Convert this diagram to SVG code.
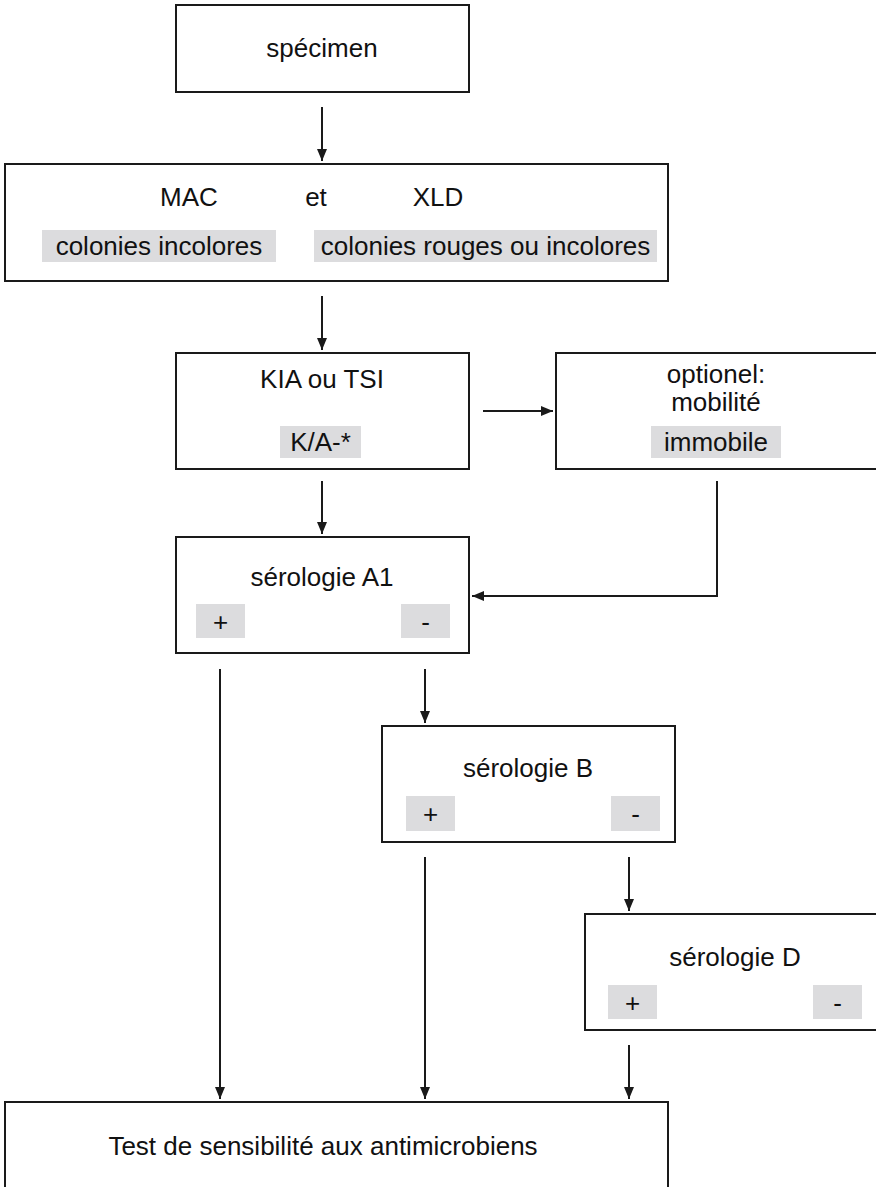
<svg xmlns="http://www.w3.org/2000/svg" width="876" height="1187" viewBox="0 0 876 1187">
<style>
.box{fill:#ffffff;stroke:#1a1a1a;stroke-width:2}
.tag{fill:#dcdcde;stroke:none}
.t{font-family:"Liberation Sans",Arial,sans-serif;font-size:26px;fill:#111;text-anchor:middle}
.c{fill:none;stroke:#1a1a1a;stroke-width:2}
</style>
<defs>
<marker id="ah" markerUnits="userSpaceOnUse" markerWidth="12" markerHeight="12" viewBox="0 0 12 12" refX="12" refY="6" orient="auto">
<path d="M0,1 L12,6 L0,11 Z" fill="#1a1a1a"/>
</marker>
</defs>
<rect width="876" height="1187" fill="#ffffff"/>
<g id="connectors">
<line class="c" x1="322" y1="107" x2="322" y2="161" marker-end="url(#ah)"/>
<line class="c" x1="322" y1="296" x2="322" y2="350" marker-end="url(#ah)"/>
<line class="c" x1="483" y1="411" x2="553" y2="411" marker-end="url(#ah)"/>
<line class="c" x1="322" y1="481" x2="322" y2="534" marker-end="url(#ah)"/>
<path class="c" d="M717,481 V596 H472" marker-end="url(#ah)"/>
<line class="c" x1="220" y1="669" x2="220" y2="1099" marker-end="url(#ah)"/>
<line class="c" x1="425" y1="669" x2="425" y2="723" marker-end="url(#ah)"/>
<line class="c" x1="425" y1="857" x2="425" y2="1099" marker-end="url(#ah)"/>
<line class="c" x1="629" y1="857" x2="629" y2="911" marker-end="url(#ah)"/>
<line class="c" x1="629" y1="1045" x2="629" y2="1099" marker-end="url(#ah)"/>
</g>
<g id="specimen">
<rect class="box" x="176" y="5" width="293" height="87"/>
<text class="t" x="322" y="57">spécimen</text>
</g>
<g id="mac-xld">
<rect class="box" x="5" y="164" width="663" height="117"/>
<text class="t" x="189" y="206">MAC</text>
<text class="t" x="316" y="206">et</text>
<text class="t" x="438" y="206">XLD</text>
<rect class="tag" x="42" y="230" width="234" height="32"/>
<text class="t" x="159" y="255">colonies incolores</text>
<rect class="tag" x="314" y="230" width="343" height="32"/>
<text class="t" x="485.5" y="255">colonies rouges ou incolores</text>
</g>
<g id="kia">
<rect class="box" x="176" y="353" width="293" height="116"/>
<text class="t" x="322" y="388">KIA ou TSI</text>
<rect class="tag" x="280" y="426" width="81" height="32"/>
<text class="t" x="320.5" y="451">K/A-*</text>
</g>
<g id="mobilite">
<rect class="box" x="556" y="353" width="330" height="116"/>
<text class="t" x="716" y="383">optionel:</text>
<text class="t" x="716" y="411">mobilité</text>
<rect class="tag" x="651" y="426" width="130" height="32"/>
<text class="t" x="716" y="451">immobile</text>
</g>
<g id="serologie-a1">
<rect class="box" x="176" y="537" width="293" height="116"/>
<text class="t" x="322" y="586">sérologie A1</text>
<rect class="tag" x="196" y="604" width="49" height="34"/>
<text class="t" x="220.5" y="631">+</text>
<rect class="tag" x="401" y="604" width="49" height="34"/>
<text class="t" x="425.5" y="631">-</text>
</g>
<g id="serologie-b">
<rect class="box" x="382" y="726" width="293" height="116"/>
<text class="t" x="528" y="777">sérologie B</text>
<rect class="tag" x="406" y="796" width="49" height="35"/>
<text class="t" x="430.5" y="823">+</text>
<rect class="tag" x="611" y="796" width="49" height="35"/>
<text class="t" x="635.5" y="823">-</text>
</g>
<g id="serologie-d">
<rect class="box" x="585" y="914" width="310" height="116"/>
<text class="t" x="735" y="966">sérologie D</text>
<rect class="tag" x="608" y="985" width="49" height="34"/>
<text class="t" x="632.5" y="1012">+</text>
<rect class="tag" x="813" y="985" width="49" height="34"/>
<text class="t" x="837.5" y="1012">-</text>
</g>
<g id="test">
<rect class="box" x="5" y="1102" width="663" height="120"/>
<text class="t" x="323" y="1155">Test de sensibilité aux antimicrobiens</text>
</g>
</svg>
